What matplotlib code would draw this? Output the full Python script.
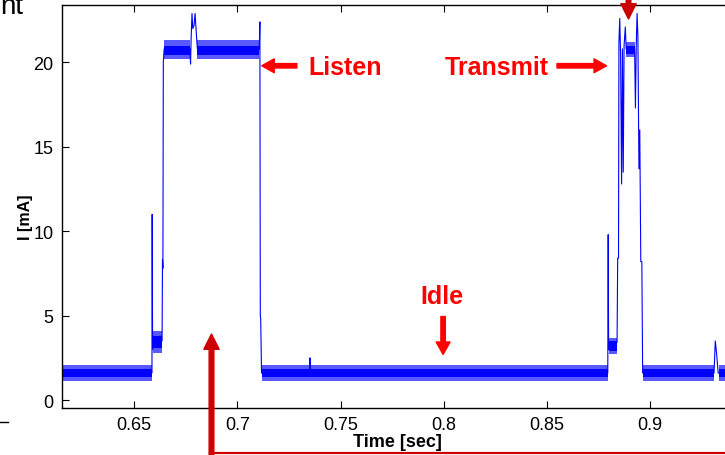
import matplotlib
matplotlib.use('Agg')
import matplotlib.pyplot as plt
from matplotlib.lines import Line2D
from matplotlib.transforms import IdentityTransform

plt.rcParams['font.family'] = ['Liberation Sans', 'DejaVu Sans']

# current trace: spikes and edges (time in sec, current in mA)
trace_t = [0.615, 0.6586, 0.6587, 0.6589, 0.6600, 0.6612, 0.6625, 0.6635,
           0.6637, 0.6639, 0.6641, 0.6645, 0.6770, 0.6773, 0.6776, 0.6780,
           0.6784, 0.6790, 0.6795, 0.6800, 0.6806, 0.7106, 0.7109, 0.7111,
           0.7113, 0.7117, 0.7350, 0.7352, 0.7355, 0.8795, 0.8797, 0.8799,
           0.8820, 0.8840, 0.8843, 0.8847, 0.8849, 0.8853, 0.8857, 0.8862,
           0.8866, 0.8870, 0.8874, 0.8880, 0.8884, 0.8925, 0.8929, 0.8933,
           0.8937, 0.8941, 0.8946, 0.8950, 0.8955, 0.8960, 0.8964, 0.9310,
           0.9316, 0.9322, 0.9330, 0.940]
trace_i = [1.6, 1.6, 11.0, 3.0, 3.6, 3.3, 3.8, 3.5,
           8.3, 7.8, 20.0, 20.8, 20.8, 19.9, 21.5, 22.9,
           22.0, 22.2, 22.9, 21.9, 20.8, 20.8, 22.4, 5.0,
           4.8, 1.6, 1.6, 2.5, 1.6, 1.6, 9.8, 3.0,
           3.3, 3.4, 8.4, 8.4, 21.2, 22.6, 20.5, 12.8,
           20.8, 13.5, 21.0, 22.1, 20.8, 20.8, 17.3, 21.0,
           22.9, 21.5, 13.7, 16.0, 8.2, 8.2, 1.6, 1.6,
           3.5, 2.8, 1.6, 1.6]

# noisy plateaus: start, end, outer low/high, core low/high
band_t0 = [0.615, 0.6589, 0.6645, 0.6806, 0.7117, 0.8800, 0.8884, 0.8964, 0.9332]
band_t1 = [0.6586, 0.6636, 0.6770, 0.7106, 0.8796, 0.8841, 0.8925, 0.9310, 0.940]
band_lo = [1.15, 2.8, 20.2, 20.2, 1.15, 2.7, 20.3, 1.15, 1.15]
band_hi = [2.05, 4.1, 21.3, 21.3, 2.05, 3.7, 21.2, 2.05, 2.05]
core_lo = [1.35, 3.1, 20.45, 20.45, 1.35, 2.9, 20.5, 1.35, 1.35]
core_hi = [1.85, 3.8, 21.0, 21.0, 1.85, 3.5, 21.0, 1.85, 1.85]

x_ticks = [0.65, 0.7, 0.75, 0.8, 0.85, 0.9]
y_ticks = [0, 5, 10, 15, 20]

fig = plt.figure(figsize=(7.25, 4.56), dpi=100)
ax = fig.add_axes([62 / 725, 47 / 456, 670 / 725, 403 / 456])

blue = '#0000ff'
for t0, t1, lo, hi, clo, chi in zip(band_t0, band_t1, band_lo, band_hi, core_lo, core_hi):
    ax.fill_between([t0, t1], [lo, lo], [hi, hi], color=blue, alpha=0.65, lw=0)
    ax.fill_between([t0, t1], [clo, clo], [chi, chi], color=blue, alpha=1.0, lw=0)
ax.plot(trace_t, trace_i, color=blue, lw=0.8)

ax.set_xlim(0.615, 0.9397)
ax.set_ylim(-0.47, 23.4)
ax.set_xticks(x_ticks)
ax.set_xticklabels(['0.65', '0.7', '0.75', '0.8', '0.85', '0.9'])
ax.set_yticks(y_ticks)
ax.tick_params(direction='in', length=5, width=0.8, labelsize=13, top=True,
               right=False, pad=6)
for s in ax.spines.values():
    s.set_linewidth(1.0)
ax.spines['right'].set_visible(False)

ax.set_xlabel('Time [sec]', fontsize=13, fontweight='bold', labelpad=0)
ax.set_ylabel('I [mA]', fontsize=11.5, fontweight='bold')
ax.yaxis.set_label_coords(-0.044, 0.476)

red = '#ff0000'
arrow = dict(arrowstyle='simple,head_width=0.5,head_length=0.45,tail_width=0.16',
             color=red, shrinkA=0, shrinkB=0, mutation_scale=20)
ax.annotate('', xy=(0.7118, 19.8), xytext=(0.7288, 19.8), arrowprops=arrow)
ax.text(0.7522, 19.75, 'Listen', color=red, fontsize=18, fontweight='bold',
        ha='center', va='center')
ax.annotate('', xy=(0.8789, 19.8), xytext=(0.8549, 19.8), arrowprops=arrow)
ax.text(0.8259, 19.75, 'Transmit', color=red, fontsize=18, fontweight='bold',
        ha='center', va='center')
ax.annotate('', xy=(0.7997, 2.7), xytext=(0.7997, 4.95), arrowprops=arrow)
ax.text(0.7990, 6.15, 'Idle', color=red, fontsize=18, fontweight='bold',
        ha='center', va='center')

# dark red markers outside the axes (figure pixels)
dark = '#cc0000'
darrow = dict(arrowstyle='simple,head_width=0.55,head_length=0.55,tail_width=0.17',
              color=dark, shrinkA=0, shrinkB=0, mutation_scale=20)
ax.annotate('', xy=(211.5, 121), xytext=(211.5, 0), xycoords='figure pixels',
            textcoords='figure pixels', arrowprops=darrow, annotation_clip=False)
ax.annotate('', xy=(628.5, 436), xytext=(628.5, 460), xycoords='figure pixels',
            textcoords='figure pixels', arrowprops=darrow, annotation_clip=False)
fig.add_artist(Line2D([210, 725], [2.5, 2.5], color=dark, lw=1.6,
                      transform=IdentityTransform()))
fig.add_artist(Line2D([0, 8], [33, 33], color='black', lw=1.0,
                      transform=IdentityTransform()))
# leftover of a title cut off by the crop
fig.text(0, 442, 'nt', fontsize=20, va='baseline', ha='left',
         transform=IdentityTransform())

fig.savefig('out.png', dpi=100)
